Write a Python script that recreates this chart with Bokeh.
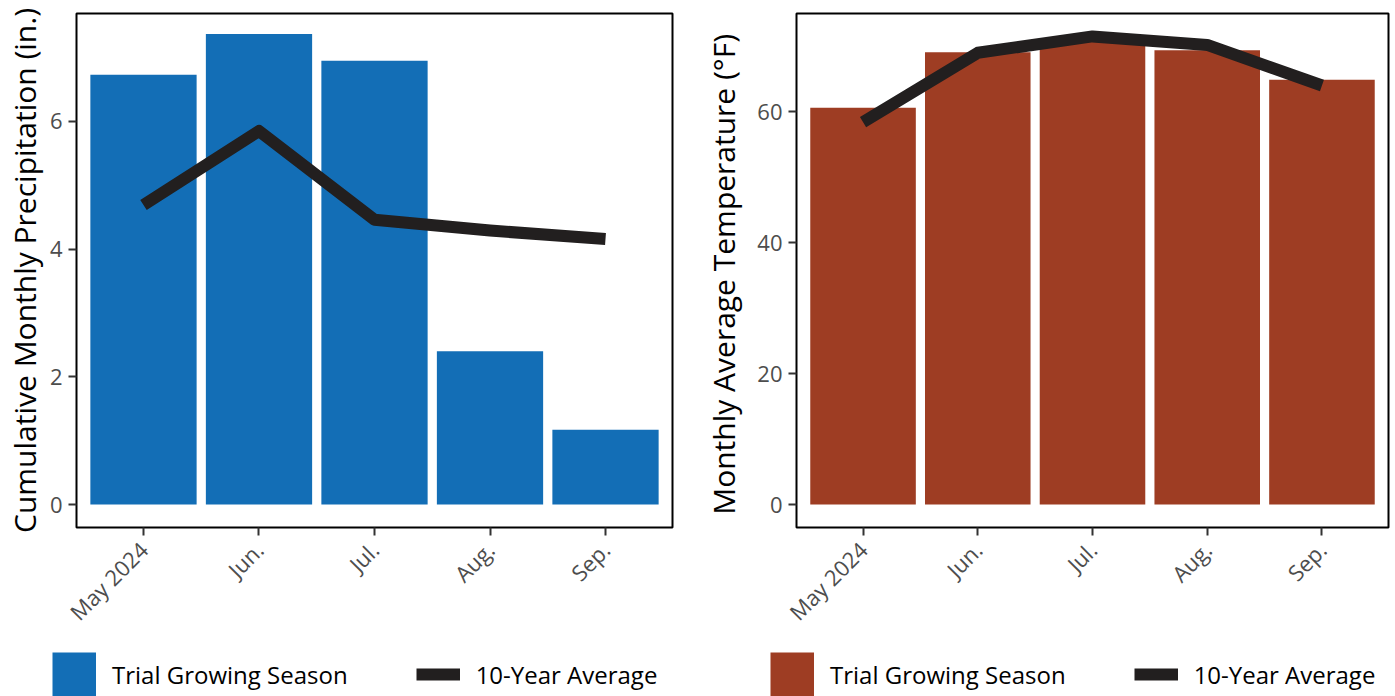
import math
from bokeh.plotting import figure
from bokeh.layouts import row, column
from bokeh.models import FixedTicker, Range1d, Legend, LegendItem, ColumnDataSource
from bokeh.embed import file_html
from bokeh.resources import INLINE

# ---- data ----
months = ["May 2024", "Jun.", "Jul.", "Aug.", "Sep."]
precip_season = [6.73, 7.37, 6.95, 2.40, 1.17]
precip_10yr = [4.69, 5.85, 4.46, 4.29, 4.16]
temp_season = [60.6, 69.1, 70.8, 69.4, 64.9]
temp_10yr = [58.4, 69.0, 71.5, 70.2, 64.0]
precip_ticks = [0, 2, 4, 6]
temp_ticks = [0, 20, 40, 60]
legend_labels = ["Trial Growing Season", "10-Year Average"]

FONT = "Open Sans"
LINE_COLOR = "#221F1F"
MAIN_H = 642
LEG_H = 54


def make_source(values, avg):
    xs = list(range(1, len(months) + 1))
    return ColumnDataSource(dict(x=xs, top=values, avg=avg))


def make_panel(src, ticks, yr, color, ylabel, width, bl, br, title_standoff):
    xs = src.data["x"]
    p = figure(width=width, height=MAIN_H, x_range=Range1d(0.42, len(months) + 0.58),
               y_range=Range1d(*yr), output_backend="svg", toolbar_location=None,
               min_border_left=bl, min_border_right=br, min_border_top=13,
               min_border_bottom=MAIN_H - 527)
    p.vbar(x="x", top="top", bottom=0, width=0.92, source=src,
           fill_color=color, line_color=None)
    p.line(x="x", y="avg", source=src, line_color=LINE_COLOR, line_width=12,
           line_join="round")

    p.xgrid.visible = False
    p.ygrid.visible = False
    p.outline_line_color = "black"
    p.outline_line_width = 2
    p.background_fill_color = "white"
    p.border_fill_color = "white"

    for ax in (p.xaxis[0], p.yaxis[0]):
        ax.axis_line_color = None
        ax.major_tick_line_color = "#333333"
        ax.major_tick_line_width = 2
        ax.major_tick_out = 8
        ax.major_tick_in = 0
        ax.minor_tick_line_color = None
        ax.major_label_text_font = FONT
        ax.major_label_text_font_size = "22px"
        ax.major_label_text_color = "#4D4D4D"

    p.xaxis.ticker = FixedTicker(ticks=xs)
    p.xaxis.major_label_overrides = {i: m for i, m in zip(xs, months)}
    p.xaxis.major_label_orientation = math.pi / 4
    p.xaxis.major_label_standoff = 10

    p.yaxis.ticker = FixedTicker(ticks=ticks)
    p.yaxis.major_label_standoff = 6
    p.yaxis.axis_label = ylabel
    p.yaxis.axis_label_text_font = FONT
    p.yaxis.axis_label_text_font_size = "30px"
    p.yaxis.axis_label_text_font_style = "normal"
    p.yaxis.axis_label_text_color = "black"
    p.yaxis.axis_label_standoff = title_standoff
    return p


def make_legend(src, color, width, x0):
    # legend strip: same data, drawn out of view so only the legend keys show
    lf = figure(width=width, height=LEG_H, x_range=Range1d(0, 1),
                y_range=Range1d(1000, 1001),
                output_backend="svg", toolbar_location=None,
                min_border_left=0, min_border_right=0, min_border_top=0,
                min_border_bottom=0)
    lf.axis.visible = False
    lf.grid.visible = False
    lf.outline_line_color = None
    # a very thick line gives a full-size square key
    r_sq = lf.line(x="x", y="top", source=src, line_color=color, line_width=44)
    r_line = lf.line(x="x", y="avg", source=src, line_color=LINE_COLOR, line_width=12)
    legend = Legend(items=[LegendItem(label=legend_labels[0], renderers=[r_sq]),
                           LegendItem(label=legend_labels[1], renderers=[r_line])],
                    orientation="horizontal", location=(x0, 0),
                    glyph_width=44, glyph_height=44, label_standoff=16, spacing=68,
                    padding=0, margin=0, border_line_color=None,
                    background_fill_alpha=0,
                    label_text_font=FONT, label_text_font_size="24px",
                    label_text_color="black")
    lf.add_layout(legend)
    return lf


W1, W2 = 700, 695
s1 = make_source(precip_season, precip_10yr)
s2 = make_source(temp_season, temp_10yr)
p1 = make_panel(s1, precip_ticks, (-0.36, 7.69), "#136EB6",
                "Cumulative Monthly Precipitation (in.)", W1, 76, W1 - 76 - 596, 2)
p2 = make_panel(s2, temp_ticks, (-3.5, 75.0), "#9E3D23",
                "Monthly Average Temperature  (°F)", W2, 95, W2 - 95 - 593, 10)
l1 = make_legend(s1, "#136EB6", W1, 52)
l2 = make_legend(s2, "#9E3D23", W2, 70)

layout = column(row(p1, p2, spacing=0), row(l1, l2, spacing=0), spacing=0)
open("out.html", "w").write(file_html(layout, INLINE))
